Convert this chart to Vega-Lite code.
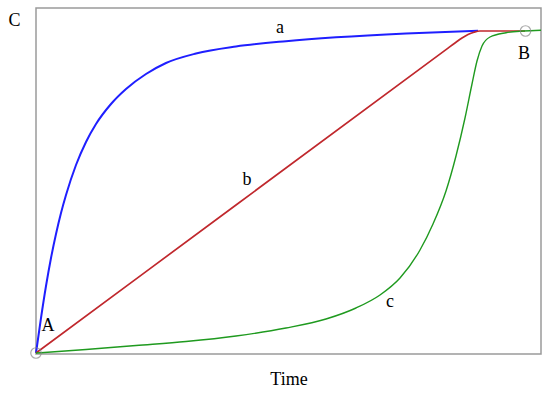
{
  "$schema": "https://vega.github.io/schema/vega-lite/v6.json",
  "width": 505,
  "height": 346,
  "autosize": {"type": "none"},
  "padding": {"left": 36, "top": 8, "right": 9, "bottom": 40},
  "background": "white",
  "config": {"view": {"stroke": "#9a9a9a", "strokeWidth": 1.5}},
  "datasets": {
    "curves": [
      {"series": "a", "t": 0, "c": 1},
      {"series": "a", "t": 5, "c": 36},
      {"series": "a", "t": 10, "c": 68},
      {"series": "a", "t": 15, "c": 96},
      {"series": "a", "t": 20, "c": 120},
      {"series": "a", "t": 25, "c": 141},
      {"series": "a", "t": 30, "c": 159},
      {"series": "a", "t": 40, "c": 189},
      {"series": "a", "t": 50, "c": 212},
      {"series": "a", "t": 60, "c": 230},
      {"series": "a", "t": 75, "c": 250},
      {"series": "a", "t": 90, "c": 265},
      {"series": "a", "t": 110, "c": 280},
      {"series": "a", "t": 130, "c": 291},
      {"series": "a", "t": 160, "c": 300.5},
      {"series": "a", "t": 200, "c": 307.5},
      {"series": "a", "t": 250, "c": 312.8},
      {"series": "a", "t": 300, "c": 316.7},
      {"series": "a", "t": 370, "c": 320.6},
      {"series": "a", "t": 442, "c": 323.3},
      {"series": "b", "t": 0, "c": 1},
      {"series": "b", "t": 200, "c": 149},
      {"series": "b", "t": 410, "c": 304.4},
      {"series": "b", "t": 420, "c": 311.8},
      {"series": "b", "t": 426, "c": 316},
      {"series": "b", "t": 432, "c": 319.5},
      {"series": "b", "t": 438, "c": 321.8},
      {"series": "b", "t": 444, "c": 323},
      {"series": "b", "t": 489, "c": 323},
      {"series": "c", "t": 0, "c": 1},
      {"series": "c", "t": 50, "c": 4.5},
      {"series": "c", "t": 100, "c": 8.5},
      {"series": "c", "t": 150, "c": 12.5},
      {"series": "c", "t": 200, "c": 18},
      {"series": "c", "t": 250, "c": 26},
      {"series": "c", "t": 290, "c": 35},
      {"series": "c", "t": 320, "c": 46},
      {"series": "c", "t": 344, "c": 59},
      {"series": "c", "t": 364, "c": 76},
      {"series": "c", "t": 384, "c": 104},
      {"series": "c", "t": 397, "c": 130},
      {"series": "c", "t": 410, "c": 163},
      {"series": "c", "t": 420, "c": 198},
      {"series": "c", "t": 429, "c": 236},
      {"series": "c", "t": 436, "c": 270},
      {"series": "c", "t": 441, "c": 293},
      {"series": "c", "t": 446, "c": 308},
      {"series": "c", "t": 454, "c": 317},
      {"series": "c", "t": 470, "c": 321.3},
      {"series": "c", "t": 487, "c": 323},
      {"series": "c", "t": 505, "c": 323.8}
    ],
    "labels": [
      {"label": "a", "t": 244, "c": 326},
      {"label": "b", "t": 211, "c": 174},
      {"label": "c", "t": 354, "c": 52},
      {"label": "A", "t": 12, "c": 28},
      {"label": "B", "t": 488, "c": 300}
    ],
    "points": [
      {"name": "A", "t": 0, "c": 1},
      {"name": "B", "t": 489.5, "c": 323}
    ]
  },
  "layer": [
    {
      "data": {"name": "curves"},
      "mark": {"type": "line", "interpolate": "monotone"},
      "encoding": {
        "x": {
          "field": "t", "type": "quantitative",
          "scale": {"domain": [0, 505], "nice": false, "zero": false},
          "axis": {"title": "Time", "domain": false, "ticks": false, "labels": false, "grid": false,
                   "titleFont": "Liberation Serif", "titleFontSize": 18, "titleFontWeight": "normal",
                   "titleColor": "black", "titlePadding": 16}
        },
        "y": {
          "field": "c", "type": "quantitative",
          "scale": {"domain": [0, 346], "nice": false, "zero": false},
          "axis": {"title": "C", "domain": false, "ticks": false, "labels": false, "grid": false,
                   "titleFont": "Liberation Serif", "titleFontSize": 18, "titleFontWeight": "normal",
                   "titleColor": "black", "titleAngle": 0, "titleX": -22, "titleY": 12,
                   "titleAlign": "center", "titleBaseline": "middle"}
        },
        "color": {
          "field": "series", "type": "nominal",
          "scale": {"domain": ["a", "b", "c"], "range": ["#1f1fff", "#c0282d", "#1f9a1f"]},
          "legend": null
        },
        "strokeWidth": {
          "field": "series", "type": "nominal",
          "scale": {"domain": ["a", "b", "c"], "range": [2, 1.4, 2]},
          "legend": null
        }
      }
    },
    {
      "data": {"name": "points"},
      "mark": {"type": "point", "shape": "circle", "filled": false, "size": 110, "stroke": "#888888", "strokeWidth": 1.2},
      "encoding": {
        "x": {"field": "t", "type": "quantitative"},
        "y": {"field": "c", "type": "quantitative"}
      }
    },
    {
      "data": {"name": "labels"},
      "mark": {"type": "text", "font": "Liberation Serif", "fontSize": 18, "color": "black", "align": "center", "baseline": "middle"},
      "encoding": {
        "x": {"field": "t", "type": "quantitative"},
        "y": {"field": "c", "type": "quantitative"},
        "text": {"field": "label"}
      }
    }
  ]
}
